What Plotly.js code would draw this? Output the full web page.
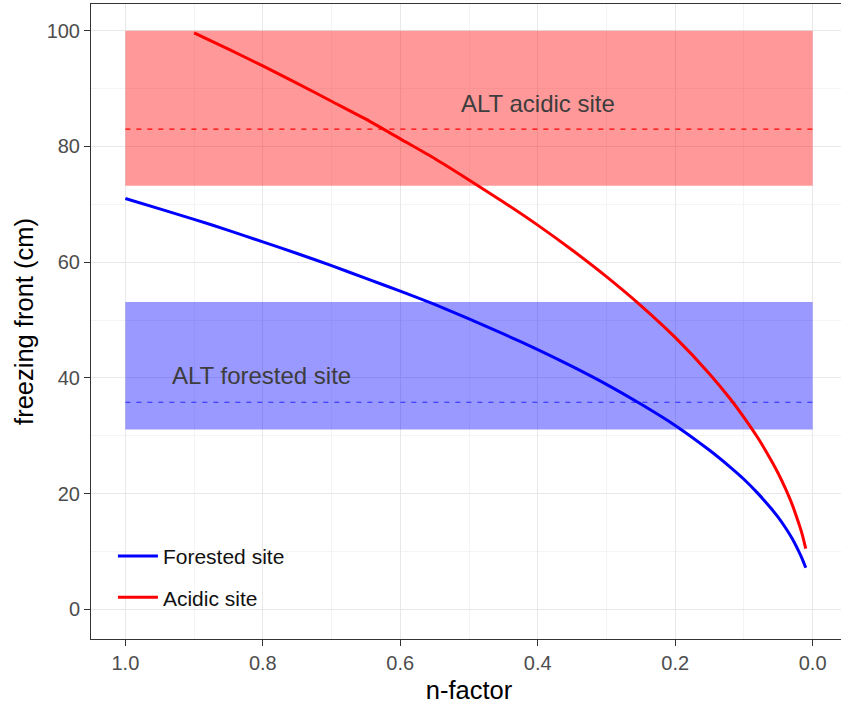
<!DOCTYPE html>
<html>
<head>
<meta charset="utf-8">
<script src="https://cdn.plot.ly/plotly-3.0.1.min.js"></script>
<style>
  html, body { margin: 0; padding: 0; overflow: hidden; background: #ffffff; }
  #chart { width: 848px; height: 708px; }
</style>
</head>
<body>
<div id="chart"></div>
<script>
// ---- data ----
const nForested = [1.0, 0.95, 0.9, 0.85, 0.8, 0.75, 0.7, 0.65, 0.6, 0.55, 0.5, 0.45, 0.4, 0.35, 0.3, 0.25, 0.2, 0.15, 0.12, 0.1, 0.08, 0.06, 0.05, 0.04, 0.03, 0.02, 0.015, 0.01];
const frontForested = [71.0, 69.2, 67.4, 65.5, 63.5, 61.5, 59.4, 57.2, 55.0, 52.7, 50.2, 47.6, 44.9, 42.0, 38.9, 35.5, 31.8, 27.5, 24.6, 22.5, 20.1, 17.4, 15.9, 14.2, 12.3, 10.0, 8.7, 7.2];

const nAcidic = [0.9, 0.85, 0.8, 0.75, 0.7, 0.65, 0.6, 0.55, 0.5, 0.45, 0.4, 0.35, 0.3, 0.25, 0.2, 0.15, 0.12, 0.1, 0.08, 0.06, 0.05, 0.04, 0.03, 0.02, 0.015, 0.01];
const frontAcidic = [99.6, 96.8, 93.9, 90.9, 87.8, 84.7, 81.3, 77.9, 74.2, 70.4, 66.4, 62.1, 57.5, 52.5, 47.0, 40.7, 36.4, 33.2, 29.7, 25.7, 23.5, 21.0, 18.2, 14.8, 12.9, 10.5];

// ALT bands: [min, mean, max]
const altAcidic = [73.2, 83.0, 100.0];
const altForested = [31.1, 35.8, 53.1];
const bandN = [1.0, 0.0];

const seriesNames = ["Forested site", "Acidic site"];
const bandLabels = ["ALT acidic site", "ALT forested site"];
const bandLabelN = [0.40, 0.802];
const bandLabelY = [87.4, 40.4];

const xTicks = [1.0, 0.8, 0.6, 0.4, 0.2, 0.0];
const yTicks = [0, 20, 40, 60, 80, 100];

// ---- traces ----
const traces = [
  { x: nForested, y: frontForested, name: seriesNames[0], type: "scatter", mode: "lines",
    line: { color: "#0000ff", width: 3, shape: "spline", smoothing: 0.6 }, legendgroup: "a" },
  { x: nAcidic, y: frontAcidic, name: seriesNames[1], type: "scatter", mode: "lines",
    line: { color: "#ff0000", width: 3, shape: "spline", smoothing: 0.6 }, legendgroup: "b" }
];

const shapes = [
  // white legend background
  { type: "rect", xref: "paper", yref: "paper", x0: 0.012, x1: 0.29, y0: 0.011, y1: 0.2504,
    fillcolor: "#ffffff", line: { width: 0 }, layer: "between" },
  // red band
  { type: "rect", xref: "x", yref: "y", x0: bandN[0], x1: bandN[1], y0: altAcidic[0], y1: altAcidic[2],
    fillcolor: "rgba(255,0,0,0.4)", line: { width: 0 }, layer: "between" },
  // blue band
  { type: "rect", xref: "x", yref: "y", x0: bandN[0], x1: bandN[1], y0: altForested[0], y1: altForested[2],
    fillcolor: "rgba(0,0,255,0.4)", line: { width: 0 }, layer: "between" },
  // mean lines
  { type: "line", xref: "x", yref: "y", x0: bandN[0], x1: bandN[1], y0: altAcidic[1], y1: altAcidic[1],
    line: { color: "#ff0000", width: 1.2, dash: "5px,6px" }, layer: "between" },
  { type: "line", xref: "x", yref: "y", x0: bandN[0], x1: bandN[1], y0: altForested[1], y1: altForested[1],
    line: { color: "#2a2aff", width: 1.2, dash: "5px,6px" }, layer: "between" }
];

const annotations = bandLabels.map((t, i) => ({
  x: bandLabelN[i], y: bandLabelY[i], xref: "x", yref: "y", text: t, showarrow: false,
  font: { family: "Liberation Sans, Arial, sans-serif", size: 24, color: "#3d3d3d" },
  xanchor: "center", yanchor: "middle"
}));

const axisCommon = {
  showline: true, mirror: true, linecolor: "#333333", linewidth: 1,
  ticks: "outside", ticklen: 6, tickcolor: "#333333", tickwidth: 1,
  showgrid: true, gridcolor: "#e8e8e8", gridwidth: 1, zeroline: false,
  tickfont: { family: "Liberation Sans, Arial, sans-serif", size: 20, color: "#4d4d4d" },
  automargin: false
};

const layout = {
  width: 848, height: 708,
  margin: { l: 91, r: 1, t: 4, b: 69 },
  paper_bgcolor: "#ffffff", plot_bgcolor: "#ffffff",
  font: { family: "Liberation Sans, Arial, sans-serif", color: "#000000" },
  xaxis: Object.assign({}, axisCommon, {
    range: [1.05, -0.05], tickvals: xTicks, tickformat: ".1f",
    minor: { dtick: 0.1, showgrid: true, gridcolor: "#f0f0f0", gridwidth: 0.7, ticks: "" },
    title: { text: "n-factor", font: { size: 25.5, color: "#000000" }, standoff: 8 }
  }),
  yaxis: Object.assign({}, axisCommon, {
    range: [-5.1, 104.6], tickvals: yTicks,
    minor: { dtick: 10, showgrid: true, gridcolor: "#f0f0f0", gridwidth: 0.7, ticks: "" },
    title: { text: "freezing front (cm)", font: { size: 25.5, color: "#000000" }, standoff: 5 }
  }),
  showlegend: true,
  legend: {
    x: 0.029, y: 0.0332, xanchor: "left", yanchor: "bottom",
    bgcolor: "rgba(0,0,0,0)", borderwidth: 0,
    font: { family: "Liberation Sans, Arial, sans-serif", size: 21, color: "#111111" },
    itemwidth: 40, tracegroupgap: 11, traceorder: "grouped"
  },
  shapes: shapes,
  annotations: annotations
};

Plotly.newPlot("chart", traces, layout, { displayModeBar: false, staticPlot: true });
</script>
</body>
</html>
